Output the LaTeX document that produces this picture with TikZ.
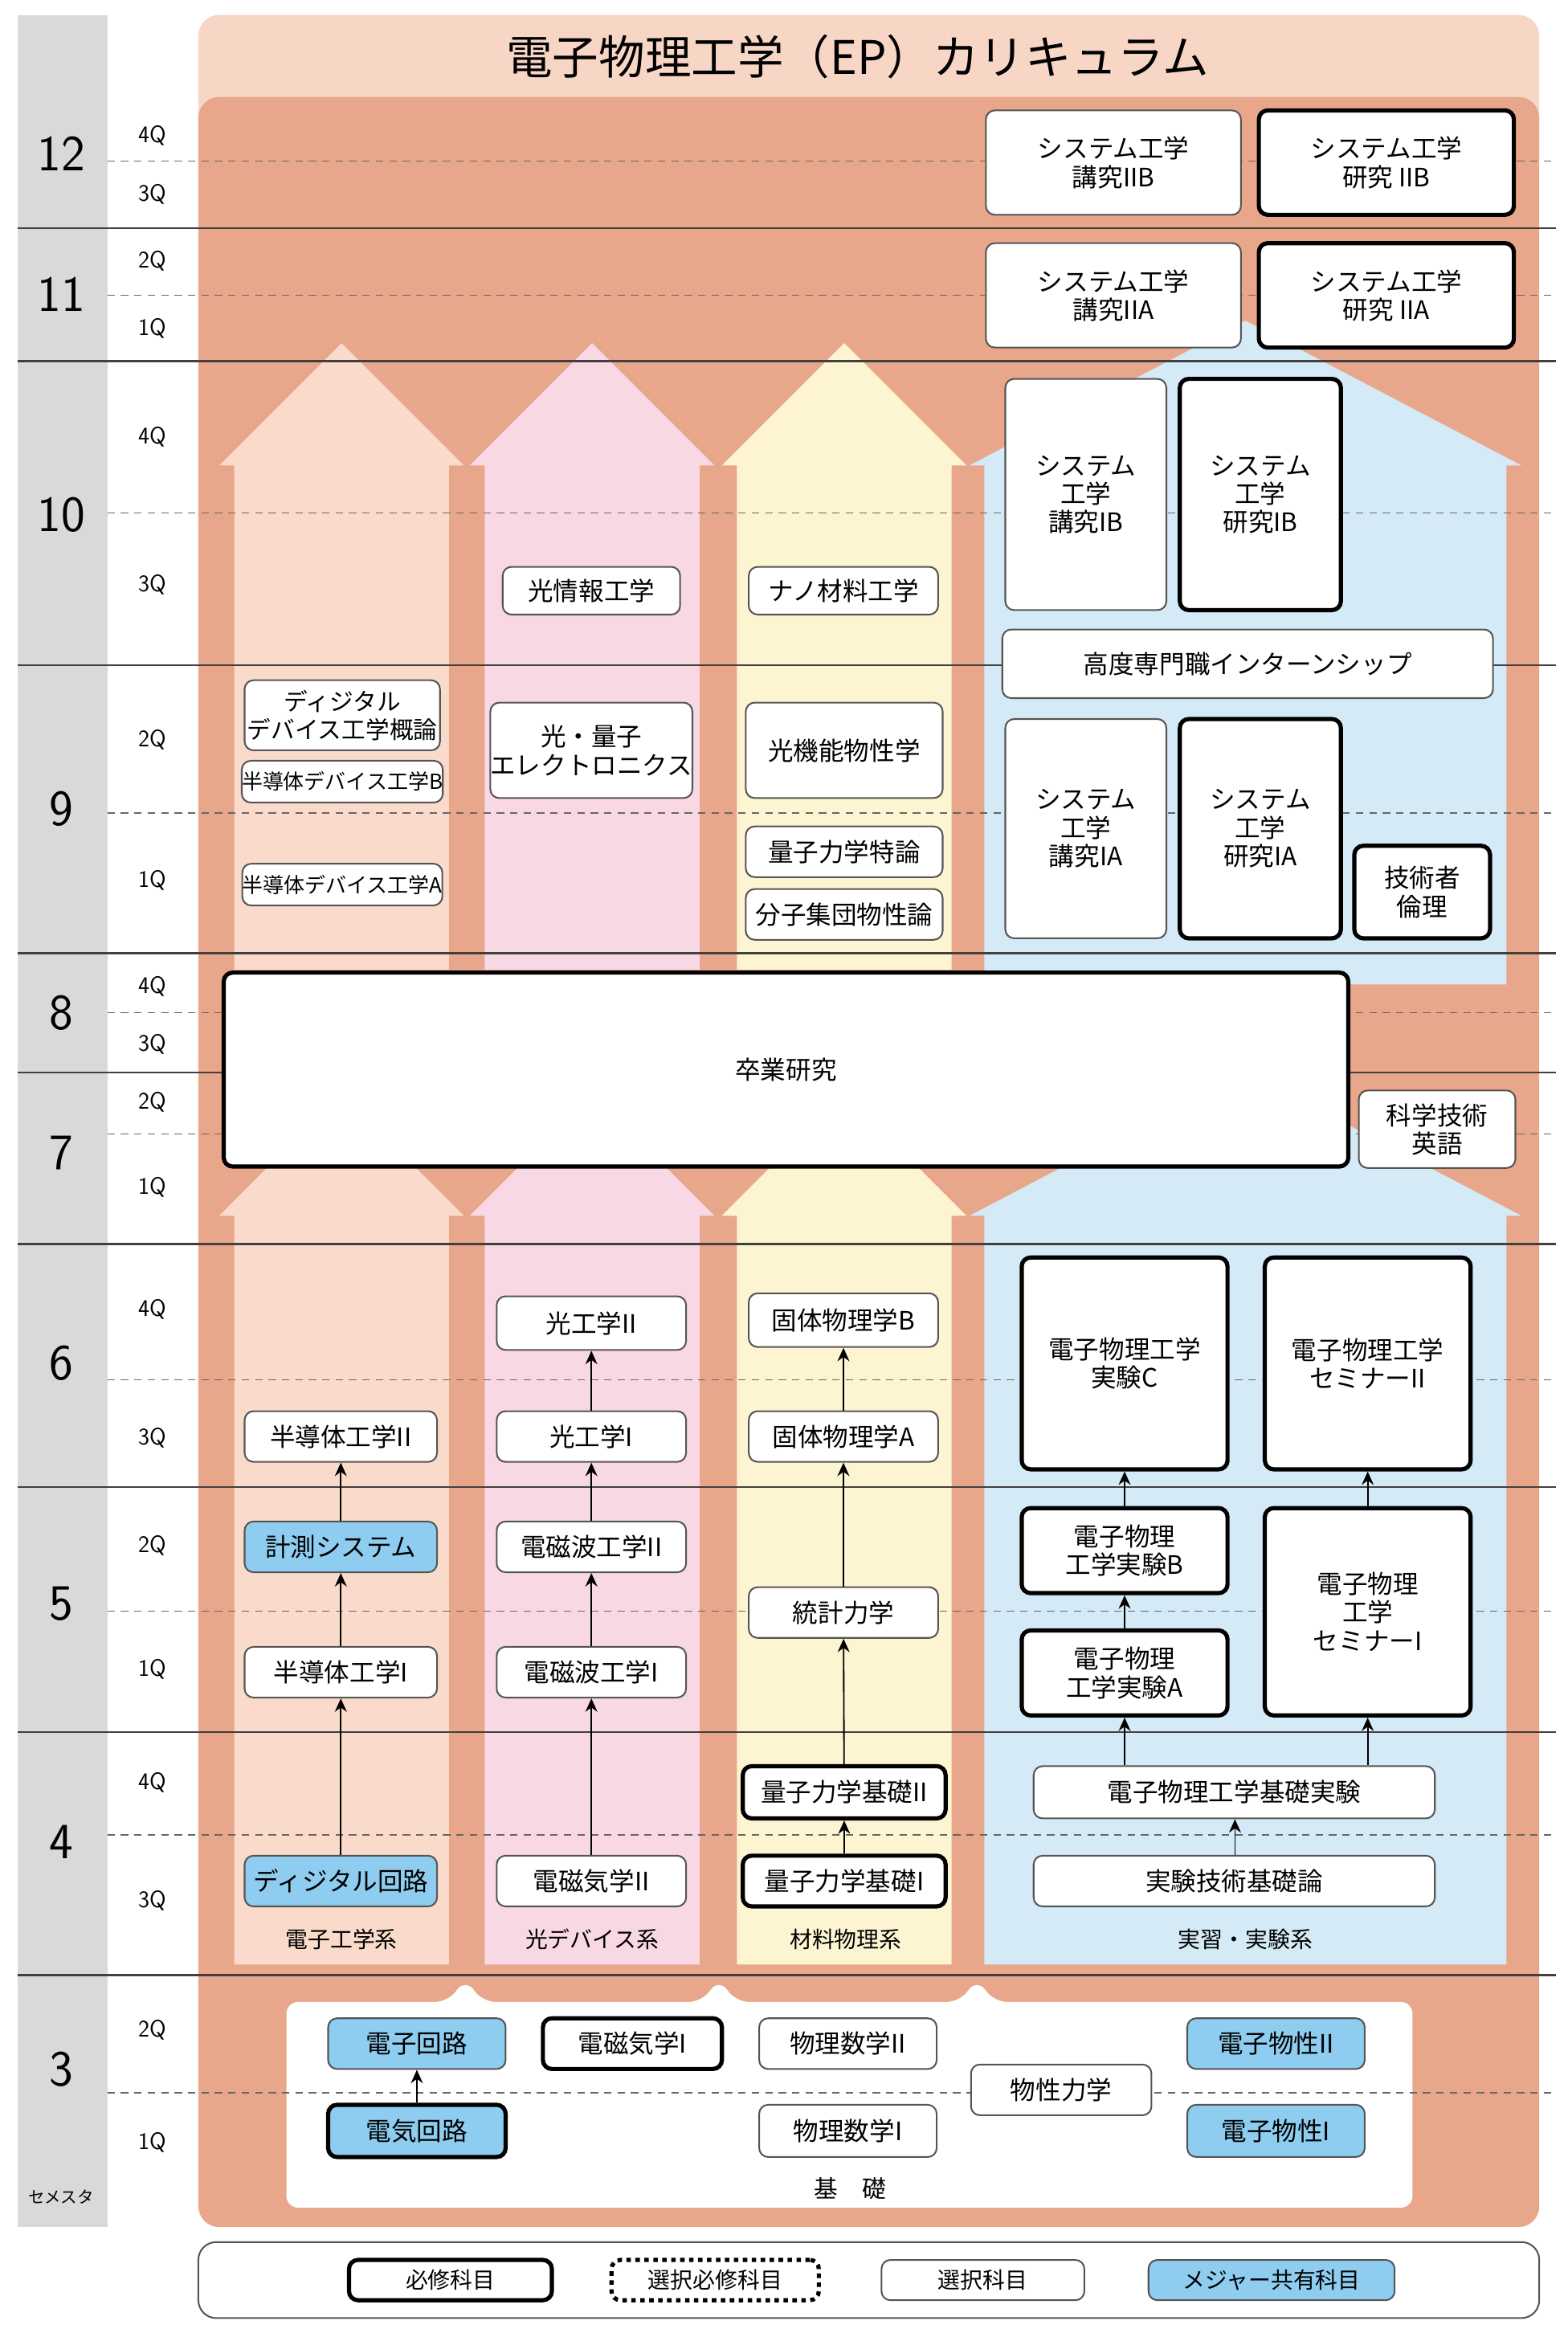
\documentclass[tikz,border=0pt]{standalone}
\usepackage{fontspec}
\newfontfamily\jp{Noto Sans CJK JP}
\usetikzlibrary{arrows.meta}
\definecolor{salmon}{HTML}{E8A68A}
\definecolor{titleband}{HTML}{F8D6C6}
\definecolor{cpeach}{HTML}{FADBCB}
\definecolor{cpink}{HTML}{F8D8E5}
\definecolor{cyellow}{HTML}{FDF5D2}
\definecolor{cblue}{HTML}{D5EAF7}
\definecolor{major}{HTML}{8ECDF0}
\definecolor{gcol}{HTML}{D9D9D9}
\definecolor{edge}{HTML}{555555}
\tikzset{
 base/.style={rounded corners=6pt, align=center, inner sep=0pt, font=\jp\fontsize{17}{19}\selectfont, fill=white},
 thinb/.style={base, draw=edge, line width=1.1pt},
 reqb/.style={base, draw=black, line width=2.8pt},
 majb/.style={thinb, fill=major},
 majreq/.style={reqb, fill=major},
 arr/.style={-{Stealth[length=9pt,width=8pt]}, line width=1pt},
 hline/.style={line width=1.3pt, draw=black!75},
 dline/.style={dashed, line width=0.7pt, draw=black!60, dash pattern=on 5pt off 4pt},
}
\newcommand\bx[7]{\node[#6, minimum width={(#4-#2)*1pt}, minimum height={(#5-#3)*1pt}] (#1) at ({(#2+#4)/2},{(#3+#5)/2}) {#7};}
\begin{document}
\begin{tikzpicture}[x=1pt,y=-1pt]
\useasboundingbox (0,0) rectangle (1051,1564);
\fill[white] (0,0) rectangle (1051,1564);
% gray column
\fill[gcol] (12,10) rectangle (72,1493);
% title band and salmon
\fill[titleband, rounded corners=14pt] (133,10) rectangle (1032,120);
\fill[salmon, rounded corners=14pt] (133,65) rectangle (1032,1493);
\node[font=\jp\fontsize{31}{34}\selectfont] at (575,38) {電子物理工学（EP）カリキュラム};
% columns upper
\fill[cpeach] (157,650)--(157,312)--(147,312)--(229,230)--(311,312)--(301,312)--(301,650)--cycle;
\fill[cpink] (325,650)--(325,312)--(315,312)--(397,230)--(479,312)--(469,312)--(469,650)--cycle;
\fill[cyellow] (494,650)--(494,312)--(484,312)--(566,230)--(648,312)--(638,312)--(638,650)--cycle;
\fill[cblue] (660,650)--(660,312)--(650,312)--(835,215)--(1020,312)--(1010,312)--(1010,660)--(660,660)--cycle;
% columns lower
\fill[cpeach] (157,1317)--(157,815)--(147,815)--(229,733)--(311,815)--(301,815)--(301,1317)--cycle;
\fill[cpink] (325,1317)--(325,815)--(315,815)--(397,733)--(479,815)--(469,815)--(469,1317)--cycle;
\fill[cyellow] (494,1317)--(494,815)--(484,815)--(566,733)--(648,815)--(638,815)--(638,1317)--cycle;
\fill[cblue] (660,1317)--(660,815)--(650,815)--(835,718)--(1020,815)--(1010,815)--(1010,1317)--cycle;
% basics white area
\fill[white, rounded corners=8pt] (192,1480)--(192,1342)--(300,1342)--(312,1327)--(324,1342)--(470,1342)--(482,1327)--(494,1342)--(643,1342)--(655,1327)--(667,1342)--(947,1342)--(947,1480)--cycle;
% lines
\foreach \y in {153,242,446,639,719,834,997,1161,1324} \draw[hline] (12,\y)--(1043,\y);
\foreach \y in {108,198,344,545,679,760,925,1080,1230,1403} \draw[dline] (72,\y)--(1043,\y);
% semester labels
\foreach \y/\t in {103/12,197/11,345/10,542/9,679/8,773/7,914/6,1075/5,1235/4,1387/3}
  \node[font=\fontsize{34}{36}\selectfont\sffamily] at (41,\y) {\t};
\foreach \y/\t in {91/4Q,130/3Q,175/2Q,220/1Q,293/4Q,392/3Q,496/2Q,590/1Q,661/4Q,700/3Q,739/2Q,796/1Q,878/4Q,964/3Q,1036/2Q,1119/1Q,1195/4Q,1274/3Q,1361/2Q,1436/1Q}
  \node[font=\fontsize{16}{18}\selectfont\sffamily] at (102,\y) {\t};
\node[font=\jp\fontsize{11}{12}\selectfont] at (41,1473) {セメスタ};
% column labels
\node[font=\jp\fontsize{15}{17}\selectfont] at (229,1300) {電子工学系};
\node[font=\jp\fontsize{15}{17}\selectfont] at (397,1300) {光デバイス系};
\node[font=\jp\fontsize{15}{17}\selectfont] at (567,1300) {材料物理系};
\node[font=\jp\fontsize{15}{17}\selectfont] at (835,1300) {実習・実験系};
\node[font=\jp\fontsize{16}{18}\selectfont] at (570,1467) {基　礎};
% upper boxes
\bx{kIIB}{661}{74}{832}{144}{thinb}{システム工学\\講究IIB}
\bx{rIIB}{844}{74}{1015}{144}{reqb}{システム工学\\研究 IIB}
\bx{kIIA}{661}{163}{832}{233}{thinb}{システム工学\\講究IIA}
\bx{rIIA}{844}{163}{1015}{233}{reqb}{システム工学\\研究 IIA}
\bx{kIB}{674}{254}{782}{409}{thinb}{システム\\工学\\講究IB}
\bx{rIB}{791}{254}{899}{409}{reqb}{システム\\工学\\研究IB}
\bx{intern}{672}{422}{1001}{468}{thinb}{高度専門職インターンシップ}
\bx{kIA}{674}{482}{782}{629}{thinb}{システム\\工学\\講究IA}
\bx{rIA}{791}{482}{899}{629}{reqb}{システム\\工学\\研究IA}
\bx{rinri}{908}{567}{999}{629}{reqb}{技術者\\倫理}
\bx{hikajo}{337}{380}{456}{412}{thinb}{光情報工学}
\bx{nano}{502}{380}{629}{412}{thinb}{ナノ材料工学}
\bx{digdev}{164}{456}{295}{503}{thinb}{\fontsize{16}{17}\selectfont ディジタル\\\fontsize{16}{17}\selectfont デバイス工学概論}
\bx{hdB}{164}{510}{295}{538}{thinb}{\fontsize{14}{16}\selectfont 半導体デバイス工学B}
\bx{hdA}{164}{579}{295}{607}{thinb}{\fontsize{14}{16}\selectfont 半導体デバイス工学A}
\bx{hqe}{331}{471}{462}{535}{thinb}{光・量子\\エレクトロニクス}
\bx{hkino}{500}{471}{632}{535}{thinb}{光機能物性学}
\bx{ryoto}{500}{554}{632}{588}{thinb}{量子力学特論}
\bx{bunshi}{500}{596}{632}{630}{thinb}{分子集団物性論}
\bx{sotsu}{150}{652}{904}{782}{reqb}{卒業研究}
\bx{eigo}{911}{731}{1016}{783}{thinb}{科学技術\\英語}
% lower boxes
\bx{hkII}{333}{869}{460}{905}{thinb}{光工学II}
\bx{kotaiB}{502}{867}{629}{903}{thinb}{固体物理学B}
\bx{jC}{685}{843}{823}{985}{reqb}{電子物理工学\\実験C}
\bx{semII}{848}{843}{986}{985}{reqb}{電子物理工学\\セミナーII}
\bx{hdkII}{164}{946}{293}{980}{thinb}{半導体工学II}
\bx{hkI}{333}{946}{460}{980}{thinb}{光工学I}
\bx{kotaiA}{502}{946}{629}{980}{thinb}{固体物理学A}
\bx{keisoku}{164}{1020}{293}{1054}{majb}{計測システム}
\bx{dmII}{333}{1020}{460}{1054}{thinb}{電磁波工学II}
\bx{toukei}{502}{1064}{629}{1098}{thinb}{統計力学}
\bx{jB}{685}{1011}{823}{1068}{reqb}{電子物理\\工学実験B}
\bx{jA}{685}{1093}{823}{1150}{reqb}{電子物理\\工学実験A}
\bx{semI}{848}{1011}{986}{1150}{reqb}{電子物理\\工学\\セミナーI}
\bx{hdkI}{164}{1104}{293}{1138}{thinb}{半導体工学I}
\bx{dmI}{333}{1104}{460}{1138}{thinb}{電磁波工学I}
\bx{qII}{498}{1184}{634}{1219}{reqb}{量子力学基礎II}
\bx{kjk}{693}{1184}{962}{1219}{thinb}{電子物理工学基礎実験}
\bx{dig}{164}{1244}{293}{1278}{majb}{ディジタル回路}
\bx{dkII}{333}{1244}{460}{1278}{thinb}{電磁気学II}
\bx{qI}{498}{1244}{634}{1278}{reqb}{量子力学基礎I}
\bx{jgk}{693}{1244}{962}{1278}{thinb}{実験技術基礎論}
% basics
\bx{denshi}{220}{1353}{339}{1387}{majb}{電子回路}
\bx{denki}{220}{1411}{339}{1446}{majreq}{電気回路}
\bx{dkI}{364}{1353}{484}{1387}{reqb}{電磁気学I}
\bx{bsII}{509}{1353}{628}{1387}{thinb}{物理数学II}
\bx{bsI}{509}{1411}{628}{1446}{thinb}{物理数学I}
\bx{busei}{651}{1384}{772}{1418}{thinb}{物性力学}
\bx{dbII}{796}{1353}{915}{1387}{majb}{電子物性II}
\bx{dbI}{796}{1411}{915}{1446}{majb}{電子物性I}
% arrows
\draw[arr] (dig)--(hdkI); \draw[arr] (hdkI)--(keisoku); \draw[arr] (keisoku)--(hdkII);
\draw[arr] (dkII)--(dmI); \draw[arr] (dmI)--(dmII); \draw[arr] (dmII)--(hkI); \draw[arr] (hkI)--(hkII);
\draw[arr] (qI)--(qII); \draw[arr] (qII)--(toukei); \draw[arr] (toukei)--(kotaiA); \draw[arr] (kotaiA)--(kotaiB);
\draw[arr] (jgk.north -| 828,0)--(kjk.south -| 828,0);
\draw[arr] (kjk.north -| jA)--(jA.south);
\draw[arr] (kjk.north -| semI.south)--(semI.south);
\draw[arr] (jA)--(jB); \draw[arr] (jB)--(jC); \draw[arr] (semI)--(semII);
\draw[arr] (denki)--(denshi);
% legend
\draw[edge, line width=1.1pt, fill=white, rounded corners=12pt] (133,1503) rectangle (1032,1554);
\bx{l1}{234}{1515}{370}{1542}{reqb}{\fontsize{15}{17}\selectfont 必修科目}
\bx{l2}{410}{1515}{549}{1542}{reqb,dashed}{\fontsize{15}{17}\selectfont 選択必修科目}
\bx{l3}{591}{1515}{727}{1542}{thinb}{\fontsize{15}{17}\selectfont 選択科目}
\bx{l4}{770}{1515}{935}{1542}{majb}{\fontsize{15}{17}\selectfont メジャー共有科目}
\end{tikzpicture}
\end{document}
